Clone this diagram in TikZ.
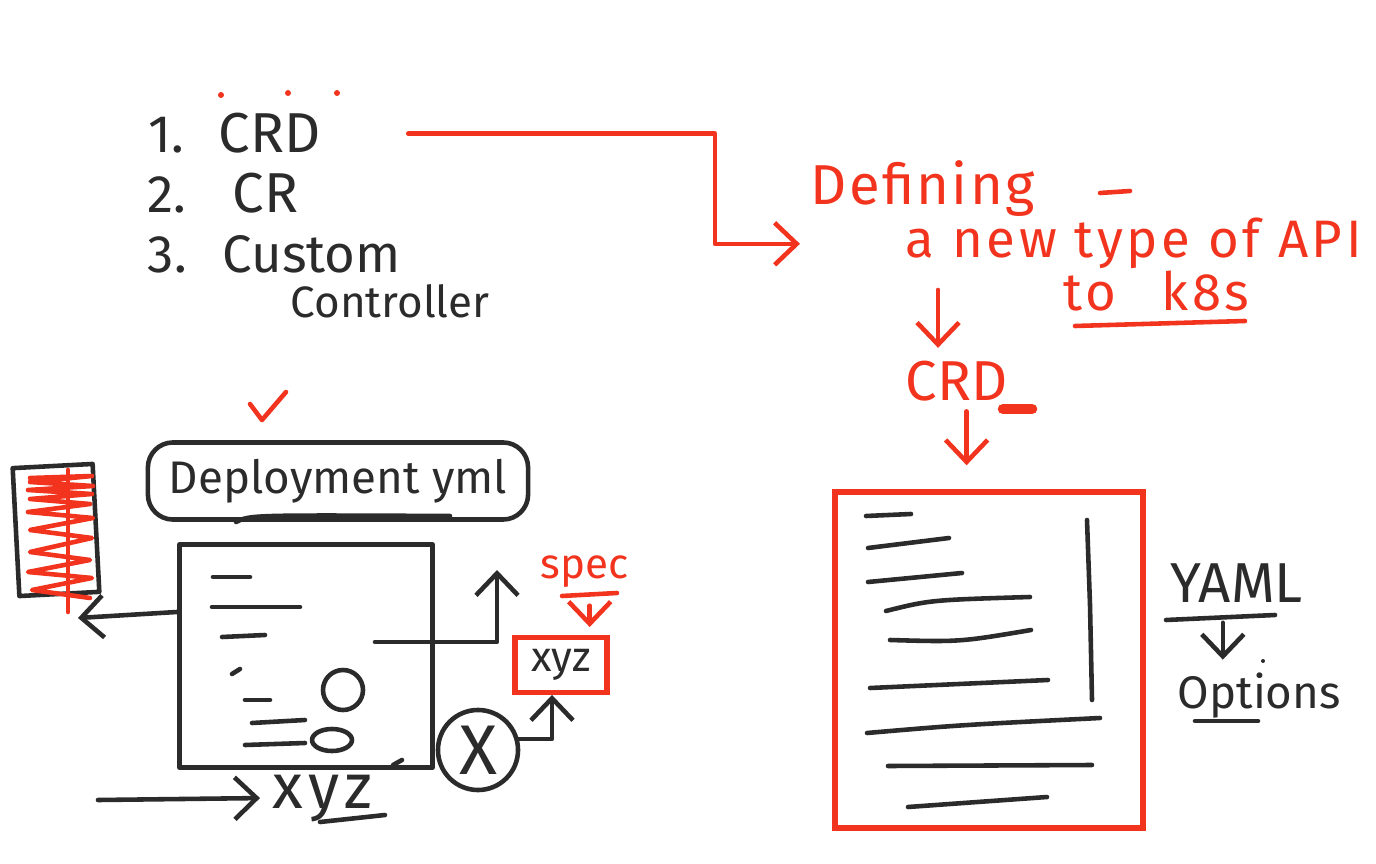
\documentclass[tikz,border=0pt]{standalone}
\usepackage{fontspec}
\setmainfont{Fira Sans}
\usetikzlibrary{arrows.meta}
\definecolor{penclr}{RGB}{43,43,43}
\definecolor{markerclr}{RGB}{242,52,30}
\tikzset{
  ink/.style={draw=penclr, line width=1.3pt, line cap=round, line join=round},
  redink/.style={draw=markerclr, line width=1.3pt, line cap=round, line join=round},
  barb/.style={-{Straight Barb[length=2.2mm,width=4.2mm]}},
  blacktxt/.style={text=penclr, inner sep=0pt, anchor=base west},
  redtxt/.style={text=markerclr, inner sep=0pt, anchor=base west},
}
\begin{document}
\begin{tikzpicture}[x=0.01cm,y=-0.01cm]
  \useasboundingbox[fill=white] (0,0) rectangle (1376,864);
  % list of terms
  \node[blacktxt, font=\fontsize{15}{18}\selectfont] (num1) at (148,153) {1.};
  \node[blacktxt, font=\fontsize{16}{18}\selectfont] (crd) at (218,153) {CRD};
  \node[blacktxt, font=\fontsize{15}{18}\selectfont] (num2) at (147,213) {2.};
  \node[blacktxt, font=\fontsize{16}{18}\selectfont] (cr) at (232,213) {CR};
  \node[blacktxt, font=\fontsize{15}{18}\selectfont] (num3) at (147,273) {3.};
  \node[blacktxt, font=\fontsize{15}{18}\selectfont] (custom) at (222,273) {Custom};
  \node[blacktxt, font=\fontsize{12.5}{15}\selectfont] (controller) at (290,318) {Controller};
  \fill[markerclr] (221,95) circle (3) (288,93) circle (3) (337,93) circle (3);
  % red notes
  \node[redtxt, font=\fontsize{16}{20}\selectfont\addfontfeature{LetterSpace=4}] (defining) at (810,205) {Defining};
  \draw[redink] (1100,193) -- (1130,191);
  \node[redtxt, font=\fontsize{15}{18}\selectfont\addfontfeature{LetterSpace=7}] (newtype) at (905,258) {a new type of API};
  \node[redtxt, font=\fontsize{15}{18}\selectfont\addfontfeature{LetterSpace=7}] (tok8s) at (1063,311) {to\hspace{0.45cm}k8s};
  \draw[redink] (1075,326) -- (1245,321);
  \node[redtxt, font=\fontsize{16}{18}\selectfont] (crdb) at (905,400) {CRD};
  \draw[draw=markerclr, line width=3pt, line cap=round] (1003,409) -- (1032,409);
  \draw[redink,barb] ([xshift=0.87cm]crd.east) -| ([xshift=-1.9cm]newtype.west) -- ([xshift=-1.05cm]newtype.west);
  \coordinate (defarrow) at ([xshift=0.33cm,yshift=-0.2cm]newtype.south west);
  \draw[redink,barb] (defarrow) -- ([yshift=0.12cm]defarrow |- crdb.north);
  % crd page
  \node[draw=markerclr, line width=1.5pt, minimum width=3.08cm, minimum height=3.36cm] (crdpage) at (989,660) {};
  \coordinate (crdarrow) at ([xshift=0.1cm,yshift=-0.1cm]crdb.south);
  \draw[redink,barb] (crdarrow) -- ([yshift=0.24cm]crdarrow |- crdpage.north);
  \draw[ink] (866,516) -- (911,514);
  \draw[ink] (868,548) -- (949,538);
  \draw[ink] (868,582) -- (962,573);
  \draw[ink] (886,611) .. controls (930,600) .. (1030,597);
  \draw[ink] (890,640) .. controls (960,642) .. (1031,630);
  \draw[ink] (870,688) -- (1048,680);
  \draw[ink] (867,733) .. controls (960,725) .. (1100,718);
  \draw[ink] (888,766) -- (1092,765);
  \draw[ink] (908,807) -- (1047,797);
  \draw[ink] (1087,520) -- (1090,605) -- (1092,700);
  \node[blacktxt, font=\fontsize{16}{18}\selectfont] (yaml) at (1170,602) {YAML};
  \draw[ink] (1166,620) -- (1275,615);
  \node[blacktxt, font=\fontsize{13}{16}\selectfont] (options) at (1177,708) {Options};
  \draw[ink] (1195,721) -- (1258,721);
  \coordinate (yamlarrow) at ([xshift=-0.14cm,yshift=-0.2cm]yaml.south);
  \draw[ink,barb] (yamlarrow) -- ([yshift=0.12cm]yamlarrow |- options.north);
  \fill[penclr] (1263,661) circle (2);
  % deployment sketch
  \draw[redink] (250,404) -- (262,420) -- (286,392);
  \node[ink, rounded corners=0.25cm, minimum width=3.8cm, minimum height=0.77cm,
        font=\fontsize{13}{16}\selectfont, text=penclr] (deploybox) at (338,481) {Deployment yml};
  \draw[ink] (236,522) .. controls (250,515) .. (450,516);
  \node[ink, minimum width=2.53cm, minimum height=2.23cm] (deploydoc) at (306,656) {};
  \draw[ink] (213,577) -- (250,577);
  \draw[ink] (212,607) -- (300,607);
  \draw[ink] (222,637) -- (265,635);
  \draw[ink] (232,674) -- (240,669);
  \draw[ink] (245,700) -- (270,700);
  \draw[ink] (252,723) -- (305,720);
  \draw[ink] (245,745) -- (305,743);
  \draw[ink] (343,690) circle (20);
  \draw[ink] (332,740) ellipse (20 and 11);
  \draw[ink] (393,765) -- (402,760);
  \coordinate (docline) at (375,642);
  \coordinate (uptip) at (497,570);
  \draw[ink,barb] (docline) -| (uptip);
  % old page with scribble
  \node[ink, rotate=3, minimum width=0.8cm, minimum height=1.28cm] (oldpage) at (56,530) {};
  \draw[redink] (68,470) -- (68,612);
  \draw[redink] (30,478) -- (92,476) -- (30,482) -- (93,486) -- (28,490) -- (92,494) -- (30,499)
    -- (90,504) -- (28,512) -- (93,518) -- (30,530) -- (92,538) -- (30,552) -- (90,560)
    -- (28,572) -- (92,578) -- (32,590) -- (90,598);
  \coordinate (pagetip) at (78,618);
  \draw[ink,barb] ([yshift=0.44cm]deploydoc.west) -- (pagetip);
  % spec box
  \node[redtxt, font=\fontsize{12}{14}\selectfont] (spec) at (540,578) {spec};
  \draw[redink] (562,596) -- (617,593);
  \node[draw=markerclr, line width=1.5pt, minimum width=0.92cm, minimum height=0.5cm,
        font=\fontsize{12}{14}\selectfont, text=penclr] (xyzbox) at (561,665) {xyz};
  \coordinate (specarrow) at ([xshift=0.05cm,yshift=-0.18cm]spec.south);
  \draw[redink,barb] (specarrow) -- ([yshift=0.08cm]specarrow |- xyzbox.north);
  \node[ink, circle, minimum size=0.8cm, inner sep=0pt, font=\fontsize{20}{22}\selectfont,
        text=penclr] (xnode) at (478,750) {X};
  \draw[ink,barb] (xnode.15) -| ([xshift=-0.09cm]xyzbox.south);
  % bottom xyz
  \node[blacktxt, font=\fontsize{18}{20}\selectfont\addfontfeature{LetterSpace=8}] (xyzb) at (272,808) {xyz};
  \draw[ink] (320,822) -- (385,815);
  \coordinate (xyzfrom) at (98,800);
  \draw[ink,barb] (xyzfrom) -- ([xshift=-0.12cm]xyzb.west);
\end{tikzpicture}
\end{document}
